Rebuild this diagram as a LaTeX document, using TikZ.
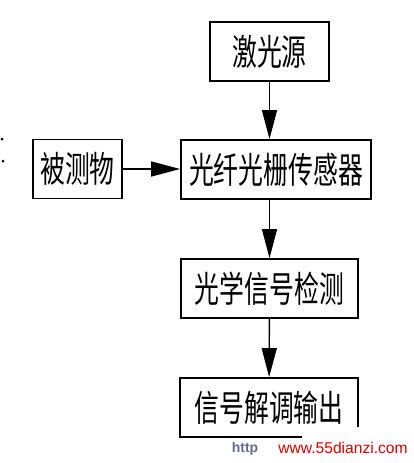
\documentclass[tikz,border=0pt]{standalone}
\usepackage{fontspec}
\setmainfont{Liberation Sans}
\newfontfamily\cjk[FakeStretch=0.69]{Noto Sans CJK SC}
\usetikzlibrary{arrows.meta}
\definecolor{httpgrijs}{RGB}{100,110,140}
\begin{document}
\begin{tikzpicture}[x=1pt,y=-1pt,
  box/.style={draw,line width=1.8pt,minimum height=59pt,inner sep=0pt,font=\cjk\fontsize{36}{36}\selectfont},
  pijl/.style={line width=1.4pt,-{Triangle[length=29pt,width=15pt]}}]
\useasboundingbox (0,0) rectangle (413,463);
\node[box,minimum width=119pt] (bron) at (269.5,51.5) {激光源};
\node[box,minimum width=89pt] (object) at (77.5,169) {被测物};
\node[box,minimum width=190pt] (sensor) at (276,169.5) {光纤光栅传感器};
\node[box,minimum width=177pt] (detect) at (269.5,288.5) {光学信号检测};
\node[box,minimum width=178pt] (demod) at (269,407.5) {信号解调输出};
\draw[pijl] (bron) -- (bron |- sensor.north);
\draw[pijl] (object) -- (object -| sensor.west);
\draw[pijl] (detect |- sensor.south) -- (detect);
\draw[pijl] (detect) -- (demod);
\fill (2,139) circle (1.5);\fill (3,161) circle (1.5);
\fill[white] (302,427) rectangle (413,463);
\node[font=\bfseries\fontsize{14}{14}\selectfont,text=httpgrijs] (http) at (245,449) {http};
\node[font=\fontsize{15.6}{15.6}\selectfont,text=red!85!black] (www) at (343,448) {www.55dianzi.com};
\end{tikzpicture}
\end{document}
